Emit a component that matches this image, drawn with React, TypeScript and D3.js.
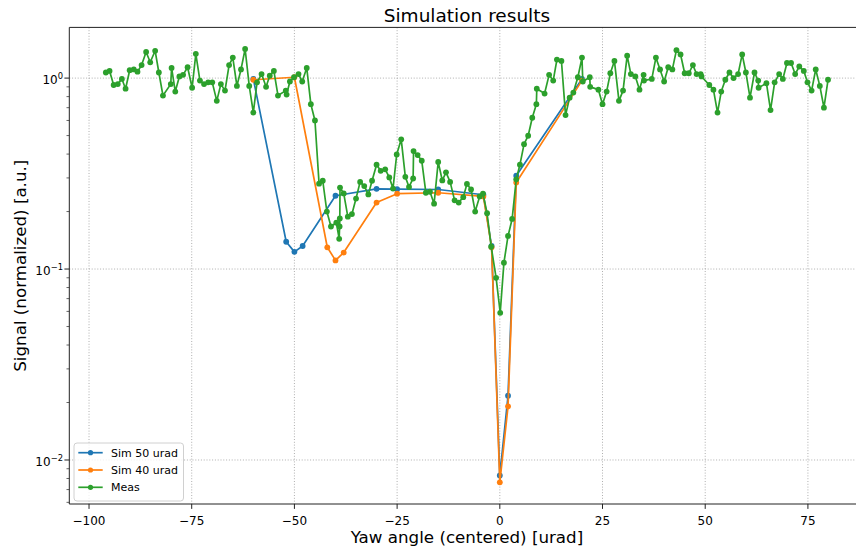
import React from "react";
import * as d3 from "d3";

// ---------- data ----------
const sim50X = [-60, -52, -50, -48, -40, -30, -25, -15, -4, -2, 0, 2, 4, 20];
const sim50Y = [0.99, 0.139, 0.123, 0.132, 0.242, 0.263, 0.262, 0.261, 0.245, 0.132, 0.0083, 0.0217, 0.308, 0.99];

const sim40X = [-60, -50, -42, -40, -38, -30, -25, -15, -4, -2, 0, 2, 4, 20];
const sim40Y = [0.98, 1.01, 0.13, 0.111, 0.122, 0.223, 0.248, 0.251, 0.24, 0.13, 0.00764, 0.0191, 0.284, 0.97];

const measX = [
  -95.9, -95.0, -94.0, -93.0, -92.0, -91.1, -90.1, -89.1, -88.2, -87.2, -86.1, -85.1, -83.9, -83.0, -82.0,
  -80.1, -79.9, -79.0, -78.0, -77.1, -76.0, -74.9, -74.0, -73.0, -72.0, -71.0, -70.0, -68.9, -67.9, -66.9,
  -65.9, -65.0, -64.0, -63.0, -62.0, -61.0, -60.0, -59.1, -58.0, -56.9, -56.0, -55.0, -54.0, -52.1, -51.9,
  -51.1, -50.1, -49.0, -48.1, -47.0, -46.0, -45.0, -44.0, -43.1, -42.1, -41.1, -39.8, -39.1, -39.0, -38.95,
  -38.9, -38.0, -37.0, -36.0, -35.0, -34.0, -33.0, -32.0, -31.1, -30.0, -29.0, -27.9, -26.9, -26.0, -25.1,
  -24.0, -23.0, -22.1, -21.1, -21.0, -20.0, -19.0, -18.0, -17.0, -16.0, -15.0, -14.0, -13.1, -12.1, -11.0,
  -10.0, -8.9, -8.0, -7.0, -6.0, -4.9, -4.1, -3.1, -2.1, -0.9, 0.1, 1.0, 2.0, 3.0, 4.0,
  4.9, 5.9, 6.9, 7.9, 8.9, 9.0, 10.9, 12.0, 13.0, 13.9, 15.0, 16.0, 17.0, 17.9, 19.0,
  20.0, 20.2, 21.9, 22.0, 24.0, 25.0, 26.0, 26.9, 27.9, 29.0, 30.0, 31.0, 31.9, 33.0, 34.0,
  35.0, 35.1, 37.0, 38.0, 39.0, 40.0, 41.0, 42.0, 43.0, 44.0, 45.0, 46.0, 47.0, 47.9, 48.9,
  49.1, 51.0, 52.0, 53.0, 53.9, 54.9, 55.9, 56.9, 58.0, 59.0, 59.9, 60.9, 62.0, 62.9, 63.0,
  64.9, 65.9, 66.9, 68.0, 68.9, 69.9, 70.9, 71.9, 72.9, 74.0, 74.9, 75.9, 76.9, 77.9, 78.9,
  79.9,
];
const measY = [
  1.07, 1.09, 0.92, 0.93, 0.99, 0.88, 1.10, 1.11, 1.08, 1.17, 1.37, 1.21, 1.39, 1.07, 0.81,
  0.93, 1.13, 0.85, 1.02, 1.04, 1.14, 0.89, 1.34, 0.97, 0.93, 0.95, 0.95, 0.76, 0.93, 0.86,
  1.17, 1.28, 0.91, 1.11, 1.42, 0.91, 0.66, 0.95, 1.05, 0.90, 1.03, 1.09, 0.81, 0.86, 0.82,
  0.96, 1.01, 1.05, 0.96, 1.13, 0.73, 0.60, 0.28, 0.29, 0.20, 0.167, 0.175, 0.144, 0.167, 0.184,
  0.267, 0.249, 0.188, 0.194, 0.234, 0.286, 0.272, 0.246, 0.290, 0.352, 0.327, 0.333, 0.302, 0.264, 0.398,
  0.478, 0.304, 0.269, 0.298, 0.415, 0.395, 0.369, 0.251, 0.254, 0.220, 0.364, 0.291, 0.321, 0.286, 0.229,
  0.223, 0.238, 0.279, 0.261, 0.200, 0.240, 0.248, 0.196, 0.131, 0.090, 0.059, 0.108, 0.149, 0.183, 0.295,
  0.352, 0.451, 0.499, 0.62, 0.73, 0.88, 0.83, 1.04, 0.97, 1.25, 1.23, 0.64, 0.79, 0.84, 1.01,
  1.28, 0.96, 1.01, 0.90, 0.87, 0.73, 0.85, 1.06, 1.23, 0.76, 0.86, 1.31, 1.05, 1.02, 0.87,
  1.04, 0.97, 0.99, 1.28, 1.11, 0.96, 1.14, 1.11, 1.40, 1.33, 1.06, 1.06, 1.17, 1.05, 1.05,
  1.02, 0.92, 0.87, 0.66, 0.85, 0.98, 1.07, 1.00, 1.05, 1.33, 1.07, 0.79, 1.07, 0.97, 0.89,
  0.94, 0.68, 0.95, 1.05, 0.99, 1.20, 1.20, 1.05, 1.15, 1.09, 0.95, 0.86, 1.11, 0.91, 0.70,
  0.98,
];

const xTicks = [-100, -75, -50, -25, 0, 25, 50, 75];
const yMajor = [1, 0.1, 0.01];
const yMajorExp = ["0", "\u22121", "\u22122"];

const seriesNames = ["Sim 50 urad", "Sim 40 urad", "Meas"];
const seriesColors = ["#1f77b4", "#ff7f0e", "#2ca02c"];

const titleText = "Simulation results";
const xLabel = "Yaw angle (centered) [urad]";
const yLabel = "Signal (normalized) [a.u.]";

// ---------- layout ----------
const W = 856;
const H = 548;
const L = 69.3;
const R = 864.6;
const T = 27.4;
const B = 504;

export default function App() {
  const x = d3.scaleLinear().domain([-104.8, 88.8]).range([L, R]);
  const y = d3.scaleLog().domain([Math.pow(10, -2.2305), Math.pow(10, 0.2655)]).range([B, T]);

  const series = [
    { xs: sim50X, ys: sim50Y },
    { xs: sim40X, ys: sim40Y },
    { xs: measX, ys: measY },
  ].map((s, i) => ({
    pts: s.xs.map((v, j) => [v, s.ys[j]] as [number, number]),
    color: seriesColors[i],
    name: seriesNames[i],
  }));

  const line = d3
    .line<[number, number]>()
    .x((d) => x(d[0]))
    .y((d) => y(d[1]));

  const [d0, d1] = y.domain();
  const minor: number[] = [];
  for (let e = -3; e <= 0; e++) {
    for (let m = 2; m <= 9; m++) {
      const v = m * Math.pow(10, e);
      if (v >= d0 && v <= d1) minor.push(v);
    }
  }

  const fmt = (v: number) => (v < 0 ? "\u2212" + Math.abs(v) : String(v));
  const gridStyle = { stroke: "#9a9a9a", strokeWidth: 0.8, strokeDasharray: "1,1.8" };
  const spine = "#222";

  const legendRows = [452.7, 470, 487.3];

  return (
    <svg
      width={W}
      height={H}
      style={{ position: "absolute", left: 0, top: 0, background: "#fff" }}
      fontFamily="DejaVu Sans, sans-serif"
    >
      <defs>
        <clipPath id="plotclip">
          <rect x={L} y={T} width={R - L} height={B - T} />
        </clipPath>
      </defs>
      <rect x={0} y={0} width={W} height={H} fill="#fff" />

      {/* grid */}
      {xTicks.map((t) => (
        <line key={"gx" + t} x1={x(t)} x2={x(t)} y1={T} y2={B} {...gridStyle} />
      ))}
      {yMajor.map((t) => (
        <line key={"gy" + t} x1={L} x2={R} y1={y(t)} y2={y(t)} {...gridStyle} />
      ))}

      {/* series */}
      <g clipPath="url(#plotclip)">
        {series.map((s) => (
          <g key={s.name}>
            <path d={line(s.pts) || ""} fill="none" stroke={s.color} strokeWidth={1.7} strokeLinejoin="round" />
            {s.pts.map((p, j) => (
              <circle key={j} cx={x(p[0])} cy={y(p[1])} r={2.9} fill={s.color} />
            ))}
          </g>
        ))}
      </g>

      {/* spines */}
      <line x1={L} x2={L} y1={T} y2={B} stroke={spine} strokeWidth={1} />
      <line x1={L} x2={R} y1={B} y2={B} stroke={spine} strokeWidth={1} />
      <line x1={L} x2={R} y1={T} y2={T} stroke={spine} strokeWidth={1} />
      <line x1={R} x2={R} y1={T} y2={B} stroke={spine} strokeWidth={1} />

      {/* x ticks */}
      {xTicks.map((t) => (
        <g key={"xt" + t}>
          <line x1={x(t)} x2={x(t)} y1={B} y2={B + 4.9} stroke={spine} strokeWidth={1} />
          <text x={x(t)} y={B + 20.5} textAnchor="middle" fontSize={12} fill="#000">
            {fmt(t)}
          </text>
        </g>
      ))}

      {/* y ticks */}
      {yMajor.map((t, i) => (
        <g key={"yt" + t}>
          <line x1={L - 4.9} x2={L} y1={y(t)} y2={y(t)} stroke={spine} strokeWidth={1} />
          <text x={63} y={y(t) + 6} textAnchor="end" fontSize={12} fill="#000">
            10
            <tspan dy={-4.6} fontSize={8.4}>
              {yMajorExp[i]}
            </tspan>
          </text>
        </g>
      ))}
      {minor.map((t) => (
        <line key={"ym" + t} x1={L - 2.8} x2={L} y1={y(t)} y2={y(t)} stroke={spine} strokeWidth={0.7} />
      ))}

      {/* title and labels */}
      <text x={(L + R) / 2} y={21.5} textAnchor="middle" fontSize={18.5} fill="#000">
        {titleText}
      </text>
      <text x={(L + R) / 2} y={542.5} textAnchor="middle" fontSize={16.7} fill="#000">
        {xLabel}
      </text>
      <text
        transform={`translate(26, ${(T + B) / 2}) rotate(-90)`}
        textAnchor="middle"
        fontSize={16.7}
        fill="#000"
      >
        {yLabel}
      </text>

      {/* legend */}
      <rect x={74} y={443} width={109.5} height={58} rx={3} fill="#fff" fillOpacity={0.8} stroke="#d0d0d0" strokeWidth={1} />
      {series.map((s, i) => (
        <g key={"lg" + s.name}>
          <line x1={78.3} x2={102.7} y1={legendRows[i]} y2={legendRows[i]} stroke={s.color} strokeWidth={1.7} />
          <circle cx={90.5} cy={legendRows[i]} r={2.6} fill={s.color} />
          <text x={111} y={legendRows[i] + 4} fontSize={11} fill="#000">
            {s.name}
          </text>
        </g>
      ))}
    </svg>
  );
}
